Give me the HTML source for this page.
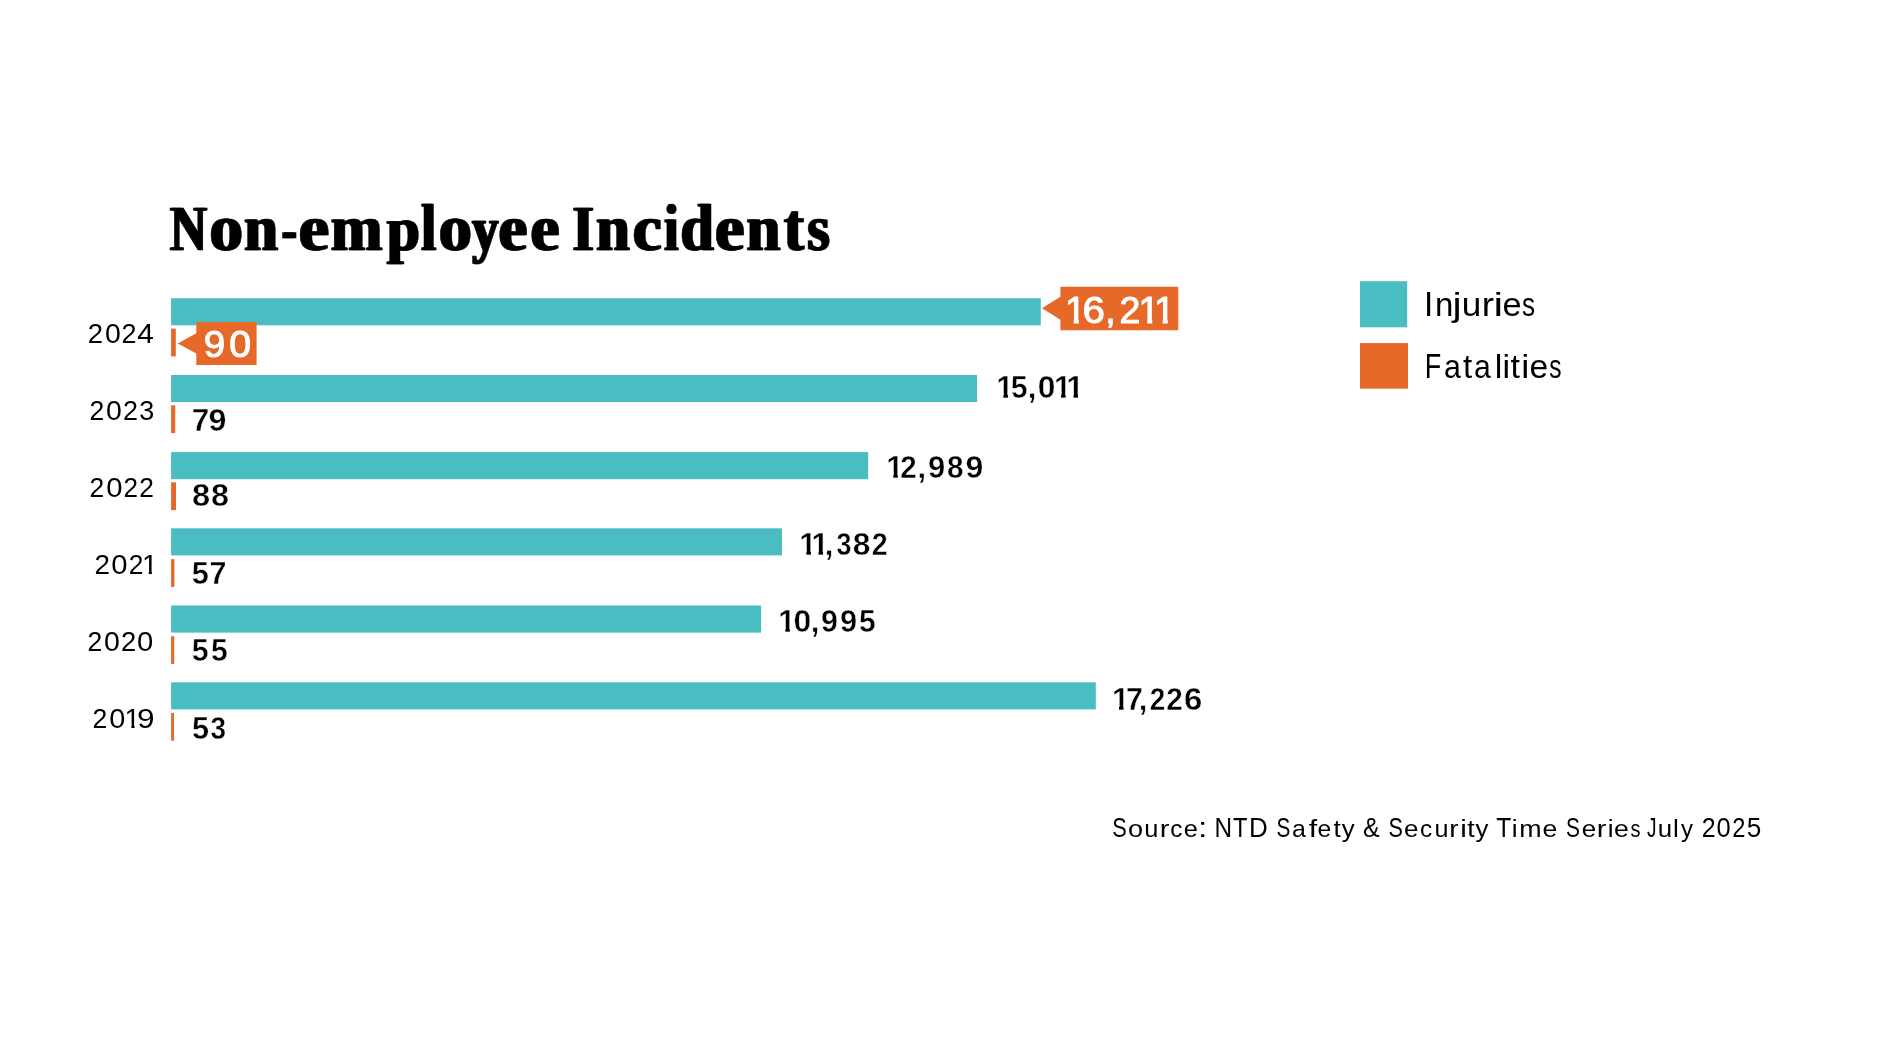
<!DOCTYPE html>
<html><head><meta charset="utf-8"><title>Non-employee Incidents</title>
<style>
html,body{margin:0;padding:0;background:#fff;}
body{width:1894px;height:1056px;overflow:hidden;}
svg{display:block;will-change:transform;}
.t{font-family:"Liberation Serif",serif;font-weight:700;}
.s{font-family:"Liberation Sans",sans-serif;font-weight:400;}
.b{font-family:"Liberation Sans",sans-serif;font-weight:700;}
</style></head>
<body>
<svg width="1894" height="1056" viewBox="0 0 1894 1056">
<rect width="1894" height="1056" fill="#fff"/>
<defs><filter id="emb" x="-5%" y="-20%" width="110%" height="140%" color-interpolation-filters="sRGB"><feOffset in="SourceGraphic" dx="2.4" dy="0" result="o"/><feMerge><feMergeNode in="SourceGraphic"/><feMergeNode in="o"/></feMerge></filter></defs>
<text class="t" y="249.95" font-size="63.36" fill="#000" stroke="#000" stroke-width="0.5" stroke-linejoin="miter" stroke-miterlimit="3" filter="url(#emb)"><tspan x="168.88" textLength="36.84" lengthAdjust="spacingAndGlyphs">N</tspan><tspan x="208.61" font-size="64.63" textLength="33.39" lengthAdjust="spacingAndGlyphs">o</tspan><tspan x="243.13" font-size="64.63" textLength="33.64" lengthAdjust="spacingAndGlyphs">n</tspan><tspan x="280.80" textLength="15.00" lengthAdjust="spacingAndGlyphs">-</tspan><tspan x="297.72" font-size="64.63" textLength="30.30" lengthAdjust="spacingAndGlyphs">e</tspan><tspan x="329.69" font-size="64.63" textLength="51.62" lengthAdjust="spacingAndGlyphs">m</tspan><tspan x="386.00" textLength="32.73" lengthAdjust="spacingAndGlyphs">p</tspan><tspan x="420.31" font-size="66.21" textLength="14.86" lengthAdjust="spacingAndGlyphs">l</tspan><tspan x="437.73" font-size="64.63" textLength="33.03" lengthAdjust="spacingAndGlyphs">o</tspan><tspan x="471.24" textLength="26.12" lengthAdjust="spacingAndGlyphs">y</tspan><tspan x="497.52" font-size="64.63" textLength="28.91" lengthAdjust="spacingAndGlyphs">e</tspan><tspan x="529.61" font-size="64.63" textLength="29.03" lengthAdjust="spacingAndGlyphs">e</tspan> <tspan x="571.40" textLength="21.41" lengthAdjust="spacingAndGlyphs">I</tspan><tspan x="595.13" font-size="64.63" textLength="33.53" lengthAdjust="spacingAndGlyphs">n</tspan><tspan x="631.63" font-size="64.63" textLength="28.84" lengthAdjust="spacingAndGlyphs">c</tspan><tspan x="663.13" font-size="66.21" textLength="14.17" lengthAdjust="spacingAndGlyphs">i</tspan><tspan x="679.53" font-size="66.21" textLength="33.19" lengthAdjust="spacingAndGlyphs">d</tspan><tspan x="713.98" font-size="64.63" textLength="29.49" lengthAdjust="spacingAndGlyphs">e</tspan><tspan x="745.62" font-size="64.63" textLength="33.86" lengthAdjust="spacingAndGlyphs">n</tspan><tspan x="782.99" font-size="68.43" textLength="19.93" lengthAdjust="spacingAndGlyphs">t</tspan><tspan x="806.30" font-size="64.63" textLength="22.46" lengthAdjust="spacingAndGlyphs">s</tspan></text>
<rect x="171.1" y="298.2" width="869.7" height="27.1" fill="#49bdc1"/>
<rect x="171.1" y="375.0" width="805.9" height="27.1" fill="#49bdc1"/>
<rect x="171.1" y="452.1" width="697.1" height="27.1" fill="#49bdc1"/>
<rect x="171.1" y="528.3" width="610.9" height="27.1" fill="#49bdc1"/>
<rect x="171.1" y="605.5" width="590.0" height="27.1" fill="#49bdc1"/>
<rect x="171.1" y="682.3" width="924.7" height="27.1" fill="#49bdc1"/>
<rect x="171.1" y="328.6" width="4.7" height="27.8" fill="#e6692a"/>
<rect x="171.1" y="405.3" width="4.1" height="27.8" fill="#e6692a"/>
<rect x="171.1" y="482.3" width="4.9" height="27.8" fill="#e6692a"/>
<rect x="171.1" y="559.1" width="3.3" height="27.8" fill="#e6692a"/>
<rect x="171.1" y="636.2" width="3.1" height="27.8" fill="#e6692a"/>
<rect x="171.1" y="712.9" width="2.9" height="27.8" fill="#e6692a"/>
<text class="s" y="342.8" font-size="28.20" fill="#000"><tspan x="87.82" textLength="15.26" lengthAdjust="spacingAndGlyphs">2</tspan><tspan x="104.99" textLength="15.82" lengthAdjust="spacingAndGlyphs">0</tspan><tspan x="121.54" textLength="15.02" lengthAdjust="spacingAndGlyphs">2</tspan><tspan x="137.32" textLength="16.56" lengthAdjust="spacingAndGlyphs">4</tspan></text>
<text class="s" y="419.9" font-size="28.20" fill="#000"><tspan x="89.46" textLength="14.77" lengthAdjust="spacingAndGlyphs">2</tspan><tspan x="105.99" textLength="15.82" lengthAdjust="spacingAndGlyphs">0</tspan><tspan x="122.94" textLength="15.02" lengthAdjust="spacingAndGlyphs">2</tspan><tspan x="139.17" textLength="15.01" lengthAdjust="spacingAndGlyphs">3</tspan></text>
<text class="s" y="496.9" font-size="28.20" fill="#000"><tspan x="89.46" textLength="14.77" lengthAdjust="spacingAndGlyphs">2</tspan><tspan x="106.16" textLength="16.29" lengthAdjust="spacingAndGlyphs">0</tspan><tspan x="123.59" textLength="14.53" lengthAdjust="spacingAndGlyphs">2</tspan><tspan x="139.28" textLength="14.65" lengthAdjust="spacingAndGlyphs">2</tspan></text>
<text class="s" y="573.9" font-size="28.20" fill="#000"><tspan x="94.60" textLength="15.50" lengthAdjust="spacingAndGlyphs">2</tspan><tspan x="111.16" textLength="16.29" lengthAdjust="spacingAndGlyphs">0</tspan><tspan x="128.68" textLength="14.65" lengthAdjust="spacingAndGlyphs">2</tspan><tspan x="142.02" textLength="15.68" lengthAdjust="spacingAndGlyphs">1</tspan></text><rect x="143.16" y="570.59" width="5.59" height="4.31" fill="#fff"/><rect x="151.95" y="570.59" width="5.37" height="4.31" fill="#fff"/>
<text class="s" y="650.9" font-size="28.20" fill="#000"><tspan x="87.46" textLength="14.77" lengthAdjust="spacingAndGlyphs">2</tspan><tspan x="103.99" textLength="15.82" lengthAdjust="spacingAndGlyphs">0</tspan><tspan x="120.92" textLength="15.26" lengthAdjust="spacingAndGlyphs">2</tspan><tspan x="137.06" textLength="16.29" lengthAdjust="spacingAndGlyphs">0</tspan></text>
<text class="s" y="727.9" font-size="28.20" fill="#000"><tspan x="92.46" textLength="14.77" lengthAdjust="spacingAndGlyphs">2</tspan><tspan x="109.17" textLength="16.06" lengthAdjust="spacingAndGlyphs">0</tspan><tspan x="124.62" textLength="15.68" lengthAdjust="spacingAndGlyphs">1</tspan><tspan x="136.92" textLength="17.58" lengthAdjust="spacingAndGlyphs">9</tspan></text><rect x="125.76" y="724.59" width="5.59" height="4.31" fill="#fff"/><rect x="134.55" y="724.59" width="5.37" height="4.31" fill="#fff"/>
<text class="b" y="398.09999999999997" font-size="30.98" fill="#000" stroke="#fff" stroke-width="0.4" stroke-linejoin="round"><tspan x="996.32" textLength="17.23" lengthAdjust="spacingAndGlyphs">1</tspan><tspan x="1010.77" textLength="16.88" lengthAdjust="spacingAndGlyphs">5</tspan><tspan x="1027.73" textLength="8.61" lengthAdjust="spacingAndGlyphs">,</tspan><tspan x="1037.74" textLength="17.66" lengthAdjust="spacingAndGlyphs">0</tspan><tspan x="1054.02" textLength="17.23" lengthAdjust="spacingAndGlyphs">1</tspan><tspan x="1066.42" textLength="17.23" lengthAdjust="spacingAndGlyphs">1</tspan></text><rect x="997.47" y="393.54" width="5.93" height="5.76" fill="#fff"/><rect x="1007.95" y="393.54" width="5.54" height="5.76" fill="#fff"/><rect x="1055.17" y="393.54" width="5.93" height="5.76" fill="#fff"/><rect x="1065.65" y="393.54" width="2.79" height="5.76" fill="#fff"/><rect x="1067.57" y="393.54" width="5.93" height="5.76" fill="#fff"/><rect x="1078.05" y="393.54" width="5.54" height="5.76" fill="#fff"/>
<text class="b" y="477.8" font-size="30.98" fill="#000" stroke="#fff" stroke-width="0.4" stroke-linejoin="round"><tspan x="886.22" textLength="17.23" lengthAdjust="spacingAndGlyphs">1</tspan><tspan x="900.28" textLength="16.40" lengthAdjust="spacingAndGlyphs">2</tspan><tspan x="917.53" textLength="8.61" lengthAdjust="spacingAndGlyphs">,</tspan><tspan x="927.93" textLength="17.22" lengthAdjust="spacingAndGlyphs">9</tspan><tspan x="947.05" textLength="16.56" lengthAdjust="spacingAndGlyphs">8</tspan><tspan x="965.49" textLength="17.80" lengthAdjust="spacingAndGlyphs">9</tspan></text><rect x="887.37" y="473.24" width="5.93" height="5.76" fill="#fff"/><rect x="897.85" y="473.24" width="3.35" height="5.76" fill="#fff"/>
<text class="b" y="555.1" font-size="30.98" fill="#000" stroke="#fff" stroke-width="0.4" stroke-linejoin="round"><tspan x="799.32" textLength="17.23" lengthAdjust="spacingAndGlyphs">1</tspan><tspan x="811.42" textLength="17.23" lengthAdjust="spacingAndGlyphs">1</tspan><tspan x="824.73" textLength="8.61" lengthAdjust="spacingAndGlyphs">,</tspan><tspan x="836.38" textLength="14.99" lengthAdjust="spacingAndGlyphs">3</tspan><tspan x="852.89" textLength="17.69" lengthAdjust="spacingAndGlyphs">8</tspan><tspan x="871.71" textLength="15.94" lengthAdjust="spacingAndGlyphs">2</tspan></text><rect x="800.47" y="550.54" width="5.93" height="5.76" fill="#fff"/><rect x="810.95" y="550.54" width="2.49" height="5.76" fill="#fff"/><rect x="812.57" y="550.54" width="5.93" height="5.76" fill="#fff"/><rect x="823.05" y="550.54" width="3.68" height="5.76" fill="#fff"/>
<text class="b" y="632.2" font-size="30.98" fill="#000" stroke="#fff" stroke-width="0.4" stroke-linejoin="round"><tspan x="778.22" textLength="17.23" lengthAdjust="spacingAndGlyphs">1</tspan><tspan x="793.54" textLength="17.77" lengthAdjust="spacingAndGlyphs">0</tspan><tspan x="810.78" textLength="8.61" lengthAdjust="spacingAndGlyphs">,</tspan><tspan x="821.05" textLength="16.88" lengthAdjust="spacingAndGlyphs">9</tspan><tspan x="839.93" textLength="17.11" lengthAdjust="spacingAndGlyphs">9</tspan><tspan x="858.98" textLength="16.65" lengthAdjust="spacingAndGlyphs">5</tspan></text><rect x="779.37" y="627.64" width="5.93" height="5.76" fill="#fff"/><rect x="789.85" y="627.64" width="5.54" height="5.76" fill="#fff"/>
<text class="b" y="710.4000000000001" font-size="30.98" fill="#000" stroke="#fff" stroke-width="0.4" stroke-linejoin="round"><tspan x="1111.92" textLength="17.23" lengthAdjust="spacingAndGlyphs">1</tspan><tspan x="1125.99" textLength="16.95" lengthAdjust="spacingAndGlyphs">7</tspan><tspan x="1138.83" textLength="8.61" lengthAdjust="spacingAndGlyphs">,</tspan><tspan x="1149.74" textLength="15.48" lengthAdjust="spacingAndGlyphs">2</tspan><tspan x="1166.27" textLength="16.52" lengthAdjust="spacingAndGlyphs">2</tspan><tspan x="1183.90" textLength="18.29" lengthAdjust="spacingAndGlyphs">6</tspan></text><rect x="1113.07" y="705.84" width="5.93" height="5.76" fill="#fff"/><rect x="1123.55" y="705.84" width="5.54" height="5.76" fill="#fff"/>
<text class="b" y="431.09999999999997" font-size="30.98" fill="#000" stroke="#fff" stroke-width="0.4" stroke-linejoin="round"><tspan x="191.74" textLength="17.54" lengthAdjust="spacingAndGlyphs">7</tspan><tspan x="208.58" textLength="17.91" lengthAdjust="spacingAndGlyphs">9</tspan></text>
<text class="b" y="505.8" font-size="30.98" fill="#000" stroke="#fff" stroke-width="0.4" stroke-linejoin="round"><tspan x="191.96" textLength="18.14" lengthAdjust="spacingAndGlyphs">8</tspan><tspan x="211.07" textLength="18.03" lengthAdjust="spacingAndGlyphs">8</tspan></text>
<text class="b" y="584.1" font-size="30.98" fill="#000" stroke="#fff" stroke-width="0.4" stroke-linejoin="round"><tspan x="191.75" textLength="17.10" lengthAdjust="spacingAndGlyphs">5</tspan><tspan x="209.49" textLength="16.95" lengthAdjust="spacingAndGlyphs">7</tspan></text>
<text class="b" y="660.6" font-size="30.98" fill="#000" stroke="#fff" stroke-width="0.4" stroke-linejoin="round"><tspan x="191.87" textLength="16.88" lengthAdjust="spacingAndGlyphs">5</tspan><tspan x="210.97" textLength="16.77" lengthAdjust="spacingAndGlyphs">5</tspan></text>
<text class="b" y="738.6" font-size="30.98" fill="#000" stroke="#fff" stroke-width="0.4" stroke-linejoin="round"><tspan x="191.95" textLength="17.10" lengthAdjust="spacingAndGlyphs">5</tspan><tspan x="210.56" textLength="15.55" lengthAdjust="spacingAndGlyphs">3</tspan></text>
<path d="M1060.4 286.8H1178.3V330.3H1060.4V319.8L1042 308.3L1060.4 296.8Z" fill="#e6692a"/>
<path d="M196.3 321.9H256.6V364.9H196.3V353.5L177.7 343.4L196.3 333.3Z" fill="#e6692a"/>
<text class="s" y="322.5" font-size="37.65" fill="#fff" stroke="#fff" stroke-width="1.0" stroke-linejoin="round"><tspan x="1065.11" textLength="20.94" lengthAdjust="spacingAndGlyphs">1</tspan><tspan x="1082.55" textLength="22.42" lengthAdjust="spacingAndGlyphs">6</tspan><tspan x="1105.32" textLength="10.46" lengthAdjust="spacingAndGlyphs">,</tspan><tspan x="1119.41" textLength="20.88" lengthAdjust="spacingAndGlyphs">2</tspan><tspan x="1138.61" textLength="20.94" lengthAdjust="spacingAndGlyphs">1</tspan><tspan x="1154.11" textLength="20.94" lengthAdjust="spacingAndGlyphs">1</tspan></text><rect x="1066.47" y="317.99" width="7.25" height="6.01" fill="#e6692a"/><rect x="1078.75" y="317.99" width="6.95" height="6.01" fill="#e6692a"/><rect x="1139.97" y="317.99" width="7.25" height="6.01" fill="#e6692a"/><rect x="1152.25" y="317.99" width="4.68" height="6.01" fill="#e6692a"/><rect x="1155.47" y="317.99" width="7.25" height="6.01" fill="#e6692a"/><rect x="1167.75" y="317.99" width="6.95" height="6.01" fill="#e6692a"/>
<text class="s" y="356.75" font-size="36.58" fill="#fff" stroke="#fff" stroke-width="1.0" stroke-linejoin="miter" stroke-miterlimit="3"><tspan x="203.79" textLength="21.43" lengthAdjust="spacingAndGlyphs">9</tspan><tspan x="229.16" textLength="21.87" lengthAdjust="spacingAndGlyphs">0</tspan></text>
<rect x="1360" y="281.2" width="47.2" height="46.1" fill="#49bdc1"/>
<rect x="1360" y="343.1" width="48" height="45.6" fill="#e6692a"/>
<text class="s" y="316.0" font-size="34.60" fill="#000"><tspan x="1423.93" textLength="9.24" lengthAdjust="spacingAndGlyphs">I</tspan><tspan x="1434.91" font-size="32.60" textLength="18.33" lengthAdjust="spacingAndGlyphs">n</tspan><tspan x="1452.41" font-size="32.60" textLength="9.17" lengthAdjust="spacingAndGlyphs">j</tspan><tspan x="1461.72" font-size="32.60" textLength="19.51" lengthAdjust="spacingAndGlyphs">u</tspan><tspan x="1481.86" font-size="32.60" textLength="12.25" lengthAdjust="spacingAndGlyphs">r</tspan><tspan x="1493.51" font-size="32.60" textLength="9.61" lengthAdjust="spacingAndGlyphs">i</tspan><tspan x="1502.54" font-size="32.60" textLength="19.08" lengthAdjust="spacingAndGlyphs">e</tspan><tspan x="1521.97" font-size="32.60" textLength="13.07" lengthAdjust="spacingAndGlyphs">s</tspan></text>
<text class="s" y="377.8" font-size="34.60" fill="#000"><tspan x="1424.78" textLength="16.50" lengthAdjust="spacingAndGlyphs">F</tspan><tspan x="1443.91" font-size="32.60" textLength="16.89" lengthAdjust="spacingAndGlyphs">a</tspan><tspan x="1463.10" font-size="32.60" textLength="9.25" lengthAdjust="spacingAndGlyphs">t</tspan><tspan x="1474.12" font-size="32.60" textLength="16.78" lengthAdjust="spacingAndGlyphs">a</tspan><tspan x="1494.70" font-size="32.60" textLength="7.58" lengthAdjust="spacingAndGlyphs">l</tspan><tspan x="1502.62" font-size="32.60" textLength="7.58" lengthAdjust="spacingAndGlyphs">i</tspan><tspan x="1510.58" font-size="32.60" textLength="9.47" lengthAdjust="spacingAndGlyphs">t</tspan><tspan x="1521.26" font-size="32.60" textLength="8.09" lengthAdjust="spacingAndGlyphs">i</tspan><tspan x="1529.47" font-size="32.60" textLength="18.73" lengthAdjust="spacingAndGlyphs">e</tspan><tspan x="1549.22" font-size="32.60" textLength="12.27" lengthAdjust="spacingAndGlyphs">s</tspan></text>
<text class="s" y="836.8" font-size="26.90" fill="#000"><tspan x="1112.21" textLength="14.48" lengthAdjust="spacingAndGlyphs">S</tspan><tspan x="1128.06" font-size="24.80" textLength="15.08" lengthAdjust="spacingAndGlyphs">o</tspan><tspan x="1144.35" font-size="24.80" textLength="14.14" lengthAdjust="spacingAndGlyphs">u</tspan><tspan x="1159.76" font-size="24.80" textLength="9.72" lengthAdjust="spacingAndGlyphs">r</tspan><tspan x="1170.27" font-size="24.80" textLength="12.18" lengthAdjust="spacingAndGlyphs">c</tspan><tspan x="1183.82" font-size="24.80" textLength="14.10" lengthAdjust="spacingAndGlyphs">e</tspan><tspan x="1198.13" textLength="9.34" lengthAdjust="spacingAndGlyphs">:</tspan> <tspan x="1214.40" textLength="17.58" lengthAdjust="spacingAndGlyphs">N</tspan><tspan x="1232.97" textLength="14.48" lengthAdjust="spacingAndGlyphs">T</tspan><tspan x="1249.07" textLength="18.78" lengthAdjust="spacingAndGlyphs">D</tspan> <tspan x="1276.46" textLength="13.79" lengthAdjust="spacingAndGlyphs">S</tspan><tspan x="1291.94" font-size="24.80" textLength="13.86" lengthAdjust="spacingAndGlyphs">a</tspan><tspan x="1308.87" font-size="24.80" textLength="8.49" lengthAdjust="spacingAndGlyphs">f</tspan><tspan x="1317.55" font-size="24.80" textLength="13.75" lengthAdjust="spacingAndGlyphs">e</tspan><tspan x="1333.60" font-size="24.80" textLength="7.29" lengthAdjust="spacingAndGlyphs">t</tspan><tspan x="1341.74" font-size="24.80" textLength="12.91" lengthAdjust="spacingAndGlyphs">y</tspan> <tspan x="1363.02" textLength="16.67" lengthAdjust="spacingAndGlyphs">&amp;</tspan> <tspan x="1388.42" textLength="14.37" lengthAdjust="spacingAndGlyphs">S</tspan><tspan x="1403.90" font-size="24.80" textLength="14.46" lengthAdjust="spacingAndGlyphs">e</tspan><tspan x="1419.97" font-size="24.80" textLength="12.18" lengthAdjust="spacingAndGlyphs">c</tspan><tspan x="1434.46" font-size="24.80" textLength="14.01" lengthAdjust="spacingAndGlyphs">u</tspan><tspan x="1449.34" font-size="24.80" textLength="9.32" lengthAdjust="spacingAndGlyphs">r</tspan><tspan x="1460.22" font-size="24.80" textLength="6.57" lengthAdjust="spacingAndGlyphs">i</tspan><tspan x="1467.39" font-size="24.80" textLength="7.51" lengthAdjust="spacingAndGlyphs">t</tspan><tspan x="1475.54" font-size="24.80" textLength="12.91" lengthAdjust="spacingAndGlyphs">y</tspan> <tspan x="1496.15" textLength="15.02" lengthAdjust="spacingAndGlyphs">T</tspan><tspan x="1511.75" font-size="24.80" textLength="5.81" lengthAdjust="spacingAndGlyphs">i</tspan><tspan x="1519.32" font-size="24.80" textLength="22.35" lengthAdjust="spacingAndGlyphs">m</tspan><tspan x="1542.57" font-size="24.80" textLength="14.82" lengthAdjust="spacingAndGlyphs">e</tspan> <tspan x="1565.95" textLength="13.90" lengthAdjust="spacingAndGlyphs">S</tspan><tspan x="1581.70" font-size="24.80" textLength="14.46" lengthAdjust="spacingAndGlyphs">e</tspan><tspan x="1596.86" font-size="24.80" textLength="9.72" lengthAdjust="spacingAndGlyphs">r</tspan><tspan x="1607.85" font-size="24.80" textLength="5.81" lengthAdjust="spacingAndGlyphs">i</tspan><tspan x="1613.97" font-size="24.80" textLength="14.82" lengthAdjust="spacingAndGlyphs">e</tspan><tspan x="1630.44" font-size="24.80" textLength="9.98" lengthAdjust="spacingAndGlyphs">s</tspan> <tspan x="1647.00" textLength="9.51" lengthAdjust="spacingAndGlyphs">J</tspan><tspan x="1657.82" font-size="24.80" textLength="14.40" lengthAdjust="spacingAndGlyphs">u</tspan><tspan x="1673.14" font-size="24.80" textLength="5.81" lengthAdjust="spacingAndGlyphs">l</tspan><tspan x="1680.94" font-size="24.80" textLength="12.01" lengthAdjust="spacingAndGlyphs">y</tspan> <tspan x="1701.74" textLength="13.92" lengthAdjust="spacingAndGlyphs">2</tspan><tspan x="1716.60" textLength="14.19" lengthAdjust="spacingAndGlyphs">0</tspan><tspan x="1732.31" textLength="13.18" lengthAdjust="spacingAndGlyphs">2</tspan><tspan x="1746.75" textLength="14.55" lengthAdjust="spacingAndGlyphs">5</tspan></text>
</svg>
</body></html>
